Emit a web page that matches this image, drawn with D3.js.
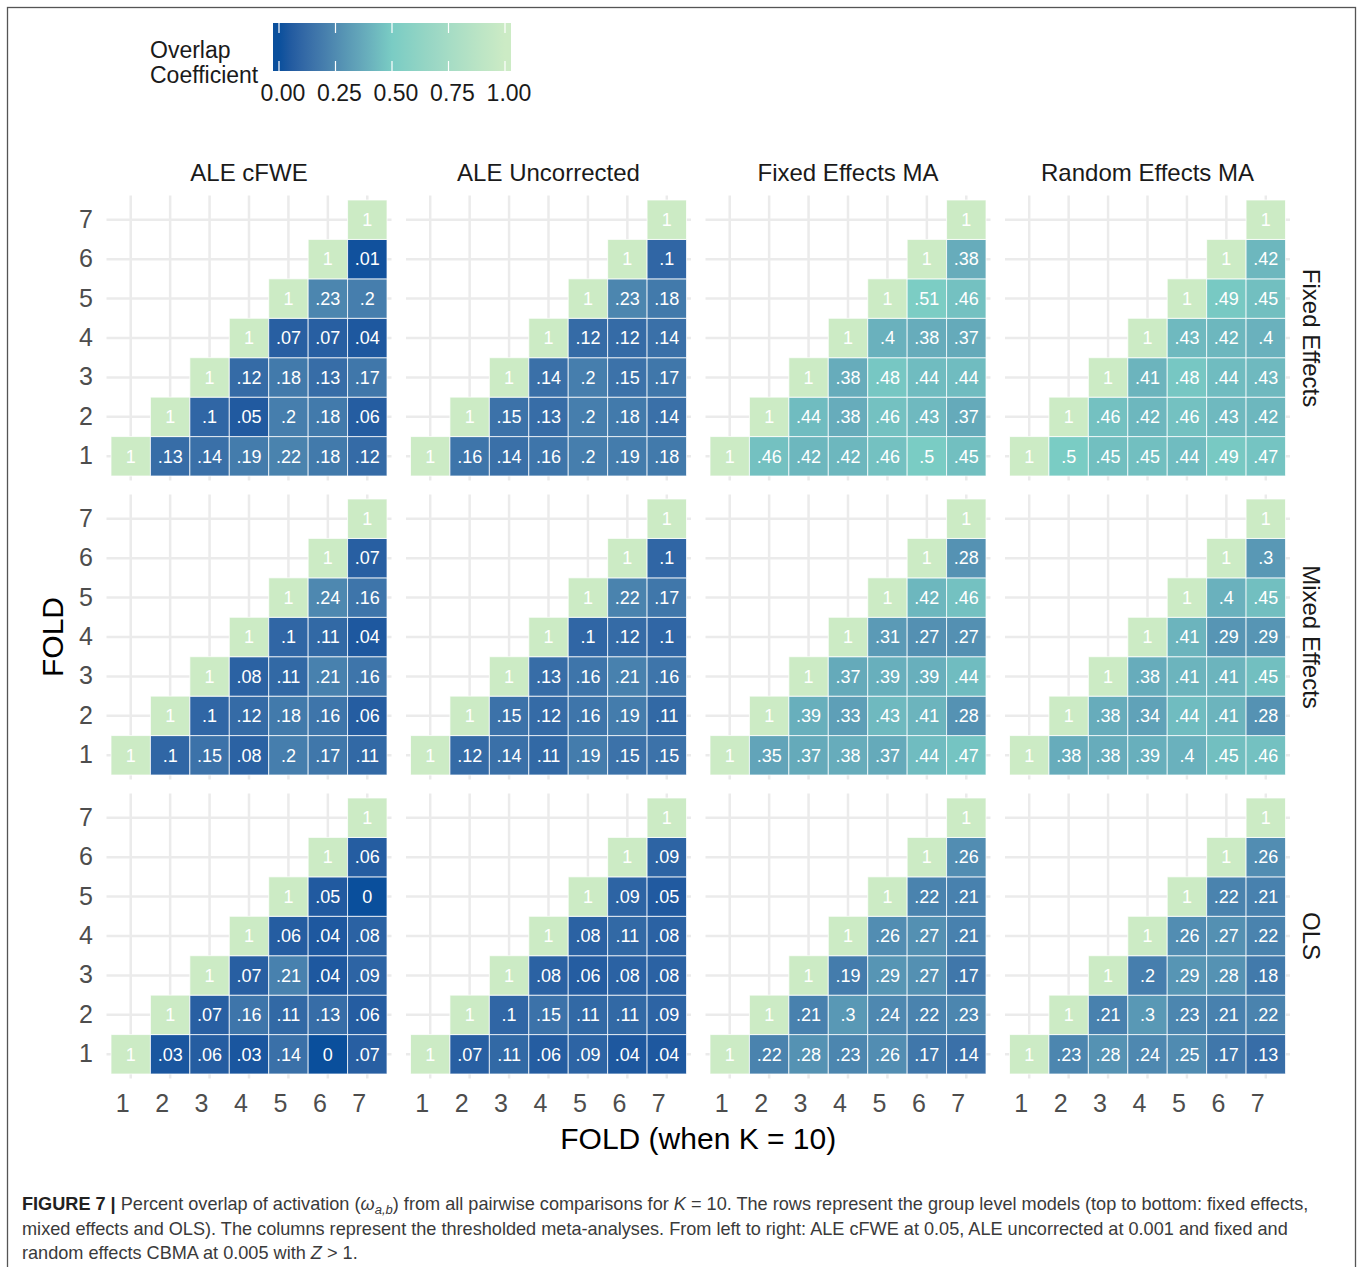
<!DOCTYPE html>
<html>
<head>
<meta charset="utf-8">
<script src="https://cdn.jsdelivr.net/npm/d3@7"></script>
<style>
  html, body { margin: 0; padding: 0; background: #fff; }
  svg { display: block; }
  text { font-family: "Liberation Sans", Arial, Helvetica, sans-serif; }
</style>
</head>
<body>
<svg id="chart" width="1360" height="1267"></svg>
<script>
// ---------------- DATA ----------------
const rowModels = ["Fixed Effects", "Mixed Effects", "OLS"];
const colMethods = ["ALE cFWE", "ALE Uncorrected", "Fixed Effects MA", "Random Effects MA"];
const folds = [1, 2, 3, 4, 5, 6, 7];
const legendTicks = [0, 0.25, 0.5, 0.75, 1];
const legendTickLabels = ["0.00", "0.25", "0.50", "0.75", "1.00"];

// each array: rows for fold 1..7 (y); row r lists values for x-folds r..7
const fixed_aleCFWE = [[1,.13,.14,.19,.22,.18,.12],[1,.1,.05,.2,.18,.06],[1,.12,.18,.13,.17],[1,.07,.07,.04],[1,.23,.2],[1,.01],[1]];
const fixed_aleUnc  = [[1,.16,.14,.16,.2,.19,.18],[1,.15,.13,.2,.18,.14],[1,.14,.2,.15,.17],[1,.12,.12,.14],[1,.23,.18],[1,.1],[1]];
const fixed_feMA    = [[1,.46,.42,.42,.46,.5,.45],[1,.44,.38,.46,.43,.37],[1,.38,.48,.44,.44],[1,.4,.38,.37],[1,.51,.46],[1,.38],[1]];
const fixed_reMA    = [[1,.5,.45,.45,.44,.49,.47],[1,.46,.42,.46,.43,.42],[1,.41,.48,.44,.43],[1,.43,.42,.4],[1,.49,.45],[1,.42],[1]];

const mixed_aleCFWE = [[1,.1,.15,.08,.2,.17,.11],[1,.1,.12,.18,.16,.06],[1,.08,.11,.21,.16],[1,.1,.11,.04],[1,.24,.16],[1,.07],[1]];
const mixed_aleUnc  = [[1,.12,.14,.11,.19,.15,.15],[1,.15,.12,.16,.19,.11],[1,.13,.16,.21,.16],[1,.1,.12,.1],[1,.22,.17],[1,.1],[1]];
const mixed_feMA    = [[1,.35,.37,.38,.37,.44,.47],[1,.39,.33,.43,.41,.28],[1,.37,.39,.39,.44],[1,.31,.27,.27],[1,.42,.46],[1,.28],[1]];
const mixed_reMA    = [[1,.38,.38,.39,.4,.45,.46],[1,.38,.34,.44,.41,.28],[1,.38,.41,.41,.45],[1,.41,.29,.29],[1,.4,.45],[1,.3],[1]];

const ols_aleCFWE   = [[1,.03,.06,.03,.14,0,.07],[1,.07,.16,.11,.13,.06],[1,.07,.21,.04,.09],[1,.06,.04,.08],[1,.05,0],[1,.06],[1]];
const ols_aleUnc    = [[1,.07,.11,.06,.09,.04,.04],[1,.1,.15,.11,.11,.09],[1,.08,.06,.08,.08],[1,.08,.11,.08],[1,.09,.05],[1,.09],[1]];
const ols_feMA      = [[1,.22,.28,.23,.26,.17,.14],[1,.21,.3,.24,.22,.23],[1,.19,.29,.27,.17],[1,.26,.27,.21],[1,.22,.21],[1,.26],[1]];
const ols_reMA      = [[1,.23,.28,.24,.25,.17,.13],[1,.21,.3,.23,.21,.22],[1,.2,.29,.28,.18],[1,.26,.27,.22],[1,.22,.21],[1,.26],[1]];

const panelValues = [
  [fixed_aleCFWE, fixed_aleUnc, fixed_feMA, fixed_reMA],
  [mixed_aleCFWE, mixed_aleUnc, mixed_feMA, mixed_reMA],
  [ols_aleCFWE, ols_aleUnc, ols_feMA, ols_reMA]
];

// ---------------- LAYOUT ----------------
const svg = d3.select("#chart");
const W = 1360, H = 1267;
const panelSize = 276;
const panelLeft = d3.scaleLinear().domain([0, 1]).range([111, 410.5]);   // panel col index -> left
const panelTop  = d3.scaleLinear().domain([0, 1]).range([200, 499]);     // panel row index -> top
const pad = 4.5;

const x = d3.scaleBand().domain(folds).range([0, panelSize]).padding(0);
const y = d3.scaleBand().domain(folds.slice().reverse()).range([0, panelSize]).padding(0);
const color = d3.scaleLinear().domain([0, 0.5, 1])
  .range(["#0a4f9c", "#7accc4", "#ccebc5"]).interpolate(d3.interpolateLab);
const fmt = v => v === 1 ? "1" : (v === 0 ? "0" : String(v).replace(/^0/, ""));

svg.append("rect").attr("width", W).attr("height", H).attr("fill", "#fff");
// outer frame
svg.append("rect").attr("x", 7.5).attr("y", 7.5).attr("width", 1348).attr("height", 1275)
  .attr("fill", "none").attr("stroke", "#555").attr("stroke-width", 1.3);

// ---------------- PANELS ----------------
rowModels.forEach((model, ri) => {
  colMethods.forEach((method, ci) => {
    const g = svg.append("g").attr("transform", `translate(${panelLeft(ci)},${panelTop(ri)})`);
    // grid
    g.selectAll(".vg").data(folds).join("line")
      .attr("x1", d => x(d) + x.bandwidth() / 2).attr("x2", d => x(d) + x.bandwidth() / 2)
      .attr("y1", -pad).attr("y2", panelSize + pad)
      .attr("stroke", "#ebebeb").attr("stroke-width", 2.5);
    g.selectAll(".hg").data(folds).join("line")
      .attr("y1", d => y(d) + y.bandwidth() / 2).attr("y2", d => y(d) + y.bandwidth() / 2)
      .attr("x1", -pad).attr("x2", panelSize + pad)
      .attr("stroke", "#ebebeb").attr("stroke-width", 2.5);

    const cells = [];
    panelValues[ri][ci].forEach((row, r) => {
      row.forEach((v, j) => cells.push({ fy: folds[r], fx: folds[r + j], v }));
    });
    g.selectAll("rect.cell").data(cells).join("rect").attr("class", "cell")
      .attr("x", d => x(d.fx)).attr("y", d => y(d.fy))
      .attr("width", x.bandwidth()).attr("height", y.bandwidth())
      .attr("fill", d => color(d.v))
      .attr("stroke", "rgba(255,255,255,0.75)").attr("stroke-width", 1);
    g.selectAll("text.lab").data(cells).join("text").attr("class", "lab")
      .attr("x", d => x(d.fx) + x.bandwidth() / 2)
      .attr("y", d => y(d.fy) + y.bandwidth() / 2)
      .attr("dy", "0.35em").attr("text-anchor", "middle")
      .attr("fill", "#fff").attr("font-size", 18)
      .text(d => fmt(d.v));

    // x axis (bottom row)
    if (ri === rowModels.length - 1) {
      const ax = g.append("g").attr("transform", `translate(0,${panelSize})`)
        .call(d3.axisBottom(x).tickSize(0).tickPadding(0));
      ax.select(".domain").remove();
      ax.selectAll("text").attr("font-size", 25).attr("fill", "#4d4d4d")
        .attr("dy", null).attr("y", 38).attr("dx", -8)
        .attr("font-family", "Liberation Sans, Arial, sans-serif");
    }
    // y axis (left col)
    if (ci === 0) {
      const ay = g.append("g").call(d3.axisLeft(y).tickSize(0).tickPadding(18));
      ay.select(".domain").remove();
      ay.selectAll("text").attr("font-size", 25).attr("fill", "#4d4d4d")
        .attr("font-family", "Liberation Sans, Arial, sans-serif");
    }
    // strip titles
    if (ri === 0) {
      svg.append("text").attr("x", panelLeft(ci) + panelSize / 2).attr("y", 181)
        .attr("text-anchor", "middle").attr("font-size", 24).attr("fill", "#1a1a1a")
        .text(method);
    }
  });
  svg.append("text")
    .attr("transform", `translate(1311,${panelTop(ri) + panelSize / 2}) rotate(90)`)
    .attr("text-anchor", "middle").attr("dy", "0.35em")
    .attr("font-size", 24).attr("fill", "#1a1a1a").text(model);
});

// axis titles
svg.append("text").attr("x", (panelLeft(0) + panelLeft(3) + panelSize) / 2).attr("y", 1149)
  .attr("text-anchor", "middle").attr("font-size", 30).attr("fill", "#000")
  .text("FOLD (when K = 10)");
svg.append("text")
  .attr("transform", `translate(52,${(panelTop(0) + panelTop(2) + panelSize) / 2}) rotate(-90)`)
  .attr("text-anchor", "middle").attr("dy", "0.35em")
  .attr("font-size", 30).attr("fill", "#000").text("FOLD");

// ---------------- LEGEND ----------------
const lx = d3.scaleLinear().domain([0, 1]).range([279, 505]);
const barX0 = 273, barX1 = 511, barY0 = 23, barH = 48;
const defs = svg.append("defs");
const grad = defs.append("linearGradient").attr("id", "lg")
  .attr("gradientUnits", "userSpaceOnUse")
  .attr("x1", lx(0)).attr("x2", lx(1)).attr("y1", 0).attr("y2", 0);
d3.range(0, 1.0001, 0.05).forEach(t => {
  grad.append("stop").attr("offset", t).attr("stop-color", color(t));
});
svg.append("rect").attr("x", barX0).attr("y", barY0).attr("width", barX1 - barX0).attr("height", barH)
  .attr("fill", "url(#lg)");
svg.selectAll(".ltick1").data(legendTicks).join("line")
  .attr("x1", d => lx(d)).attr("x2", d => lx(d)).attr("y1", barY0).attr("y2", barY0 + 10)
  .attr("stroke", "#fff").attr("stroke-width", 1.2);
svg.selectAll(".ltick2").data(legendTicks).join("line")
  .attr("x1", d => lx(d)).attr("x2", d => lx(d)).attr("y1", barY0 + barH - 10).attr("y2", barY0 + barH)
  .attr("stroke", "#fff").attr("stroke-width", 1.2);
svg.selectAll(".ltext").data(legendTicks).join("text")
  .attr("x", d => lx(d) + 4).attr("y", 101).attr("text-anchor", "middle")
  .attr("font-size", 23).attr("fill", "#1a1a1a")
  .text((d, i) => legendTickLabels[i]);
svg.append("text").attr("x", 150).attr("y", 58).attr("font-size", 23).attr("fill", "#1a1a1a").text("Overlap");
svg.append("text").attr("x", 150).attr("y", 83).attr("font-size", 23).attr("fill", "#1a1a1a").text("Coefficient");

// ---------------- CAPTION ----------------
const cap = svg.append("g").attr("fill", "#3a3a3a");
const lines = [
  [{ t: "FIGURE 7 |", b: true }, { t: " Percent overlap of activation (" }, { t: "ω", i: true },
   { t: "a,b", i: true, sub: true }, { t: ") from all pairwise comparisons for ", after: true }, { t: "K", i: true },
   { t: " = 10. The rows represent the group level models (top to bottom: fixed effects," }],
  [{ t: "mixed effects and OLS). The columns represent the thresholded meta-analyses. From left to right: ALE cFWE at 0.05, ALE uncorrected at 0.001 and fixed and" }],
  [{ t: "random effects CBMA at 0.005 with " }, { t: "Z", i: true }, { t: " > 1." }]
];
const baseSize = 16.5;
const capTexts = lines.map((segs, li) => {
  const tx = cap.append("text").attr("x", 22).attr("y", 1210 + li * 24.5).attr("font-size", baseSize);
  segs.forEach(s => {
    const ts = tx.append("tspan").text(s.t);
    if (s.b) ts.attr("font-weight", "bold").attr("fill", "#222");
    if (s.i) ts.attr("font-style", "italic");
    if (s.sub) ts.attr("font-size", baseSize * 0.72).attr("dy", 4);
    if (s.after) ts.attr("dy", -4);
  });
  return tx;
});
const w1 = capTexts[0].node().getComputedTextLength();
if (w1 > 0) {
  const k = 1288 / w1;
  capTexts.forEach(tx => {
    tx.attr("font-size", baseSize * k);
    tx.selectAll("tspan").each(function () {
      const fs = d3.select(this).attr("font-size");
      if (fs) d3.select(this).attr("font-size", fs * k);
    });
  });
}
</script>
</body>
</html>
